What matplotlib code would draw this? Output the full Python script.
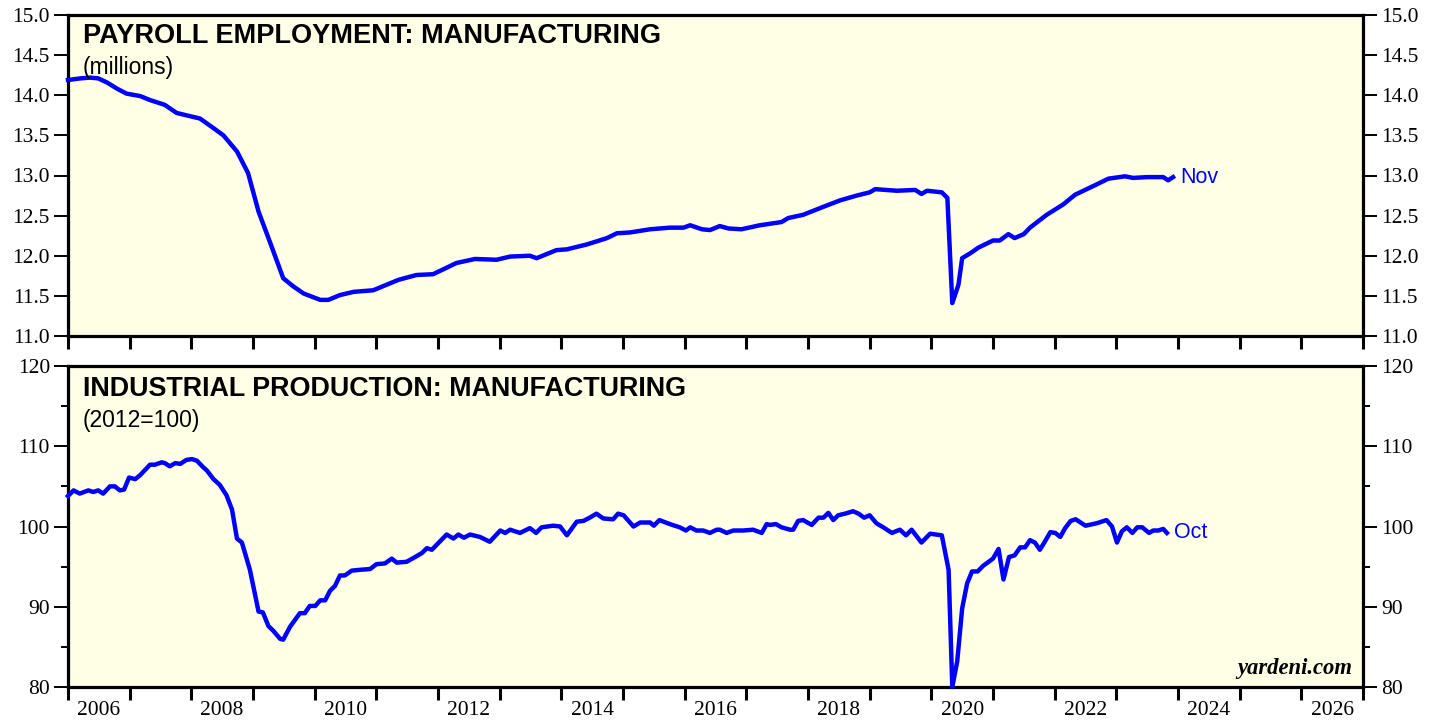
import matplotlib
matplotlib.use("Agg")
import matplotlib.pyplot as plt
from matplotlib.ticker import MultipleLocator, FixedLocator, NullFormatter, FixedFormatter

# ---------------- data ----------------
pay_dates = [2006.00, 2006.20, 2006.36, 2006.49, 2006.63, 2006.80, 2006.95, 2007.17, 2007.33,
             2007.57, 2007.76, 2007.92, 2008.14, 2008.36, 2008.52, 2008.74, 2008.92, 2009.09,
             2009.28, 2009.49, 2009.65, 2009.82, 2010.09, 2010.22, 2010.41, 2010.63, 2010.95,
             2011.17, 2011.36, 2011.65, 2011.92, 2012.30, 2012.60, 2012.95, 2013.17, 2013.49,
             2013.60, 2013.92, 2014.09, 2014.41, 2014.74, 2014.90, 2015.11, 2015.44, 2015.76,
             2015.98, 2016.09, 2016.28, 2016.41, 2016.57, 2016.71, 2016.92, 2017.22, 2017.57,
             2017.68, 2017.92, 2018.25, 2018.52, 2018.79, 2019.00, 2019.09, 2019.44, 2019.74,
             2019.84, 2019.93, 2020.17, 2020.26, 2020.34, 2020.44, 2020.50, 2020.65, 2020.76,
             2021.00, 2021.11, 2021.25, 2021.35, 2021.50, 2021.60, 2021.87, 2022.14, 2022.33,
             2022.63, 2022.87, 2023.14, 2023.27, 2023.50, 2023.76, 2023.84, 2023.92]
pay_values = [14.19, 14.21, 14.22, 14.21, 14.16, 14.08, 14.02, 13.99, 13.94,
              13.88, 13.78, 13.75, 13.71, 13.59, 13.50, 13.30, 13.03, 12.55,
              12.16, 11.72, 11.62, 11.53, 11.45, 11.45, 11.51, 11.55, 11.57,
              11.64, 11.70, 11.76, 11.77, 11.91, 11.96, 11.95, 11.99, 12.00,
              11.97, 12.07, 12.08, 12.14, 12.22, 12.28, 12.29, 12.33, 12.35,
              12.35, 12.38, 12.33, 12.32, 12.37, 12.34, 12.33, 12.38, 12.42,
              12.47, 12.51, 12.61, 12.69, 12.75, 12.79, 12.83, 12.81, 12.82,
              12.77, 12.81, 12.79, 12.72, 11.41, 11.64, 11.97, 12.04, 12.10,
              12.19, 12.19, 12.27, 12.22, 12.27, 12.35, 12.51, 12.64, 12.76,
              12.87, 12.96, 12.99, 12.97, 12.98, 12.98, 12.94, 12.98]

ip_dates = [2006.00, 2006.09, 2006.19, 2006.33, 2006.41, 2006.49, 2006.57, 2006.68, 2006.76,
            2006.84, 2006.91, 2006.99, 2007.09, 2007.17, 2007.33, 2007.41, 2007.52, 2007.57,
            2007.65, 2007.74, 2007.82, 2007.92, 2008.01, 2008.09, 2008.19, 2008.25, 2008.36,
            2008.46, 2008.57, 2008.66, 2008.74, 2008.82, 2008.95, 2009.09, 2009.16, 2009.25,
            2009.33, 2009.44, 2009.49, 2009.60, 2009.76, 2009.84, 2009.92, 2010.01, 2010.09,
            2010.17, 2010.25, 2010.33, 2010.41, 2010.49, 2010.60, 2010.73, 2010.90, 2011.00,
            2011.14, 2011.25, 2011.33, 2011.49, 2011.63, 2011.74, 2011.82, 2011.90, 2012.14,
            2012.25, 2012.33, 2012.42, 2012.52, 2012.68, 2012.84, 2013.01, 2013.09, 2013.17,
            2013.33, 2013.49, 2013.59, 2013.68, 2013.87, 2013.98, 2014.09, 2014.25, 2014.36,
            2014.46, 2014.57, 2014.68, 2014.84, 2014.92, 2015.01, 2015.09, 2015.17, 2015.28,
            2015.44, 2015.50, 2015.59, 2015.76, 2015.92, 2016.02, 2016.09, 2016.19, 2016.30,
            2016.41, 2016.52, 2016.57, 2016.68, 2016.79, 2016.95, 2017.11, 2017.25, 2017.33,
            2017.38, 2017.48, 2017.57, 2017.71, 2017.76, 2017.84, 2017.92, 2018.06, 2018.17,
            2018.25, 2018.33, 2018.41, 2018.49, 2018.60, 2018.73, 2018.82, 2018.91, 2019.00,
            2019.11, 2019.22, 2019.36, 2019.49, 2019.59, 2019.68, 2019.84, 2019.98, 2020.17,
            2020.28, 2020.34, 2020.42, 2020.50, 2020.58, 2020.66, 2020.75, 2020.84, 2021.00,
            2021.09, 2021.17, 2021.26, 2021.35, 2021.44, 2021.52, 2021.60, 2021.68, 2021.76,
            2021.84, 2021.93, 2022.01, 2022.09, 2022.17, 2022.26, 2022.34, 2022.42, 2022.50,
            2022.68, 2022.84, 2022.93, 2023.01, 2023.09, 2023.17, 2023.26, 2023.34, 2023.42,
            2023.53, 2023.60, 2023.68, 2023.76, 2023.82]
ip_values = [103.8, 104.5, 104.1, 104.5, 104.3, 104.5, 104.1, 105.0, 105.0,
             104.5, 104.6, 106.1, 105.9, 106.4, 107.7, 107.7, 108.0, 107.9,
             107.5, 107.9, 107.8, 108.3, 108.4, 108.2, 107.4, 107.0, 105.9,
             105.2, 103.9, 102.1, 98.5, 98.0, 94.6, 89.4, 89.3, 87.6,
             87.0, 86.0, 85.9, 87.5, 89.2, 89.2, 90.1, 90.1, 90.8,
             90.8, 92.0, 92.6, 93.9, 93.9, 94.5, 94.6, 94.7, 95.3,
             95.4, 96.0, 95.5, 95.6, 96.2, 96.7, 97.3, 97.1, 99.0,
             98.5, 99.0, 98.6, 99.0, 98.7, 98.1, 99.5, 99.2, 99.6,
             99.2, 99.8, 99.2, 99.9, 100.1, 100.0, 98.9, 100.6, 100.7,
             101.1, 101.6, 101.0, 100.9, 101.6, 101.4, 100.7, 100.0, 100.5,
             100.5, 100.1, 100.8, 100.3, 99.9, 99.5, 99.9, 99.5, 99.5,
             99.2, 99.6, 99.6, 99.2, 99.5, 99.5, 99.6, 99.2, 100.3,
             100.2, 100.3, 99.9, 99.6, 99.6, 100.7, 100.8, 100.2, 101.1,
             101.1, 101.7, 100.8, 101.4, 101.6, 101.9, 101.6, 101.1, 101.4,
             100.4, 99.9, 99.2, 99.6, 98.9, 99.6, 98.0, 99.1, 98.9,
             94.6, 80.0, 83.2, 89.8, 92.9, 94.4, 94.4, 95.1, 96.0,
             97.2, 93.4, 96.2, 96.4, 97.4, 97.4, 98.3, 98.0, 97.1,
             98.1, 99.3, 99.2, 98.7, 99.8, 100.7, 100.9, 100.5, 100.1,
             100.4, 100.8, 100.0, 98.0, 99.4, 99.9, 99.2, 99.9, 99.9,
             99.2, 99.5, 99.5, 99.7, 99.2]

year_labels = ["2006", "2008", "2010", "2012", "2014", "2016", "2018", "2020", "2022", "2024", "2026"]
pay_title = "PAYROLL EMPLOYMENT: MANUFACTURING"
pay_sub = "(millions)"
ip_title = "INDUSTRIAL PRODUCTION: MANUFACTURING"
ip_sub = "(2012=100)"
pay_last = "Nov"
ip_last = "Oct"

# ---------------- style ----------------
BG = "#FFFFE6"
BLUE = "#0000FF"
SERIF = ["Liberation Serif", "DejaVu Serif"]
SANS = ["Liberation Sans", "DejaVu Sans"]

fig = plt.figure(figsize=(14.41, 7.21), dpi=100)
W, H = 1441, 721
left, right = 68 / W, 1363 / W
ax1 = fig.add_axes([left, 1 - 336 / H, right - left, (336 - 15) / H])
ax2 = fig.add_axes([left, 1 - 687 / H, right - left, (687 - 366) / H])


def style(ax, ylo, yhi, major, minor, fmt, show_xlabels):
    ax.set_facecolor(BG)
    ax.set_xlim(2006, 2027)
    ax.set_ylim(ylo, yhi)
    for s in ax.spines.values():
        s.set_linewidth(2.3)
        s.set_color("black")
    ax.yaxis.set_major_locator(MultipleLocator(major))
    if minor:
        ax.yaxis.set_minor_locator(MultipleLocator(minor))
    ax.yaxis.set_major_formatter(matplotlib.ticker.FormatStrFormatter(fmt))
    ax.tick_params(axis="y", which="major", direction="out", length=10, width=1.4,
                   left=True, right=True, labelleft=True, labelright=True,
                   labelsize=15.5, pad=3)
    ax.tick_params(axis="y", which="minor", direction="out", length=5, width=1.4,
                   left=True, right=True)
    for lab in ax.get_yticklabels():
        lab.set_fontfamily(SERIF)
    ax.xaxis.set_major_locator(FixedLocator(list(range(2006, 2028))))
    ax.xaxis.set_major_formatter(NullFormatter())
    ax.tick_params(axis="x", which="major", direction="out", length=9.5, width=2.2,
                   bottom=True, top=False)
    if show_xlabels:
        pos = [int(y) + 0.5 for y in year_labels]
        ax.xaxis.set_minor_locator(FixedLocator(pos))
        ax.xaxis.set_minor_formatter(FixedFormatter(year_labels))
        ax.tick_params(axis="x", which="minor", length=0, labelsize=15.5, pad=10)
        for lab in ax.get_xticklabels(minor=True):
            lab.set_fontfamily(SERIF)
    else:
        ax.xaxis.set_minor_locator(FixedLocator([]))


style(ax1, 11.0, 15.0, 0.5, None, "%.1f", False)
style(ax2, 80, 120, 10, 5, "%d", True)

ax1.plot(pay_dates, pay_values, color=BLUE, lw=3.2, solid_joinstyle="round", clip_on=False, zorder=3)
ax2.plot(ip_dates, ip_values, color=BLUE, lw=3.2, solid_joinstyle="round", clip_on=False, zorder=3)

ax1.annotate(pay_last, xy=(pay_dates[-1], pay_values[-1]), xytext=(5, 0), textcoords="offset points",
             va="center", ha="left", color=BLUE, fontsize=15.5, family=SANS)
ax2.annotate(ip_last, xy=(ip_dates[-1], ip_values[-1]), xytext=(5, 0), textcoords="offset points",
             va="center", ha="left", color=BLUE, fontsize=15.5, family=SANS)

ax1.text(0.0116, 0.975, pay_title, transform=ax1.transAxes, ha="left", va="top",
         fontsize=19.5, fontweight="bold", family=SANS)
ax1.text(0.0116, 0.872, pay_sub, transform=ax1.transAxes, ha="left", va="top",
         fontsize=16.5, family=SANS)
ax2.text(0.0116, 0.968, ip_title, transform=ax2.transAxes, ha="left", va="top",
         fontsize=19.4, fontweight="bold", family=SANS)
ax2.text(0.0116, 0.865, ip_sub, transform=ax2.transAxes, ha="left", va="top",
         fontsize=16.5, family=SANS)
ax2.text(0.992, 0.025, "yardeni.com", transform=ax2.transAxes, ha="right", va="bottom",
         fontsize=16.3, fontweight="bold", fontstyle="italic", family=SERIF)

fig.savefig("out.png", dpi=100, facecolor="white")
